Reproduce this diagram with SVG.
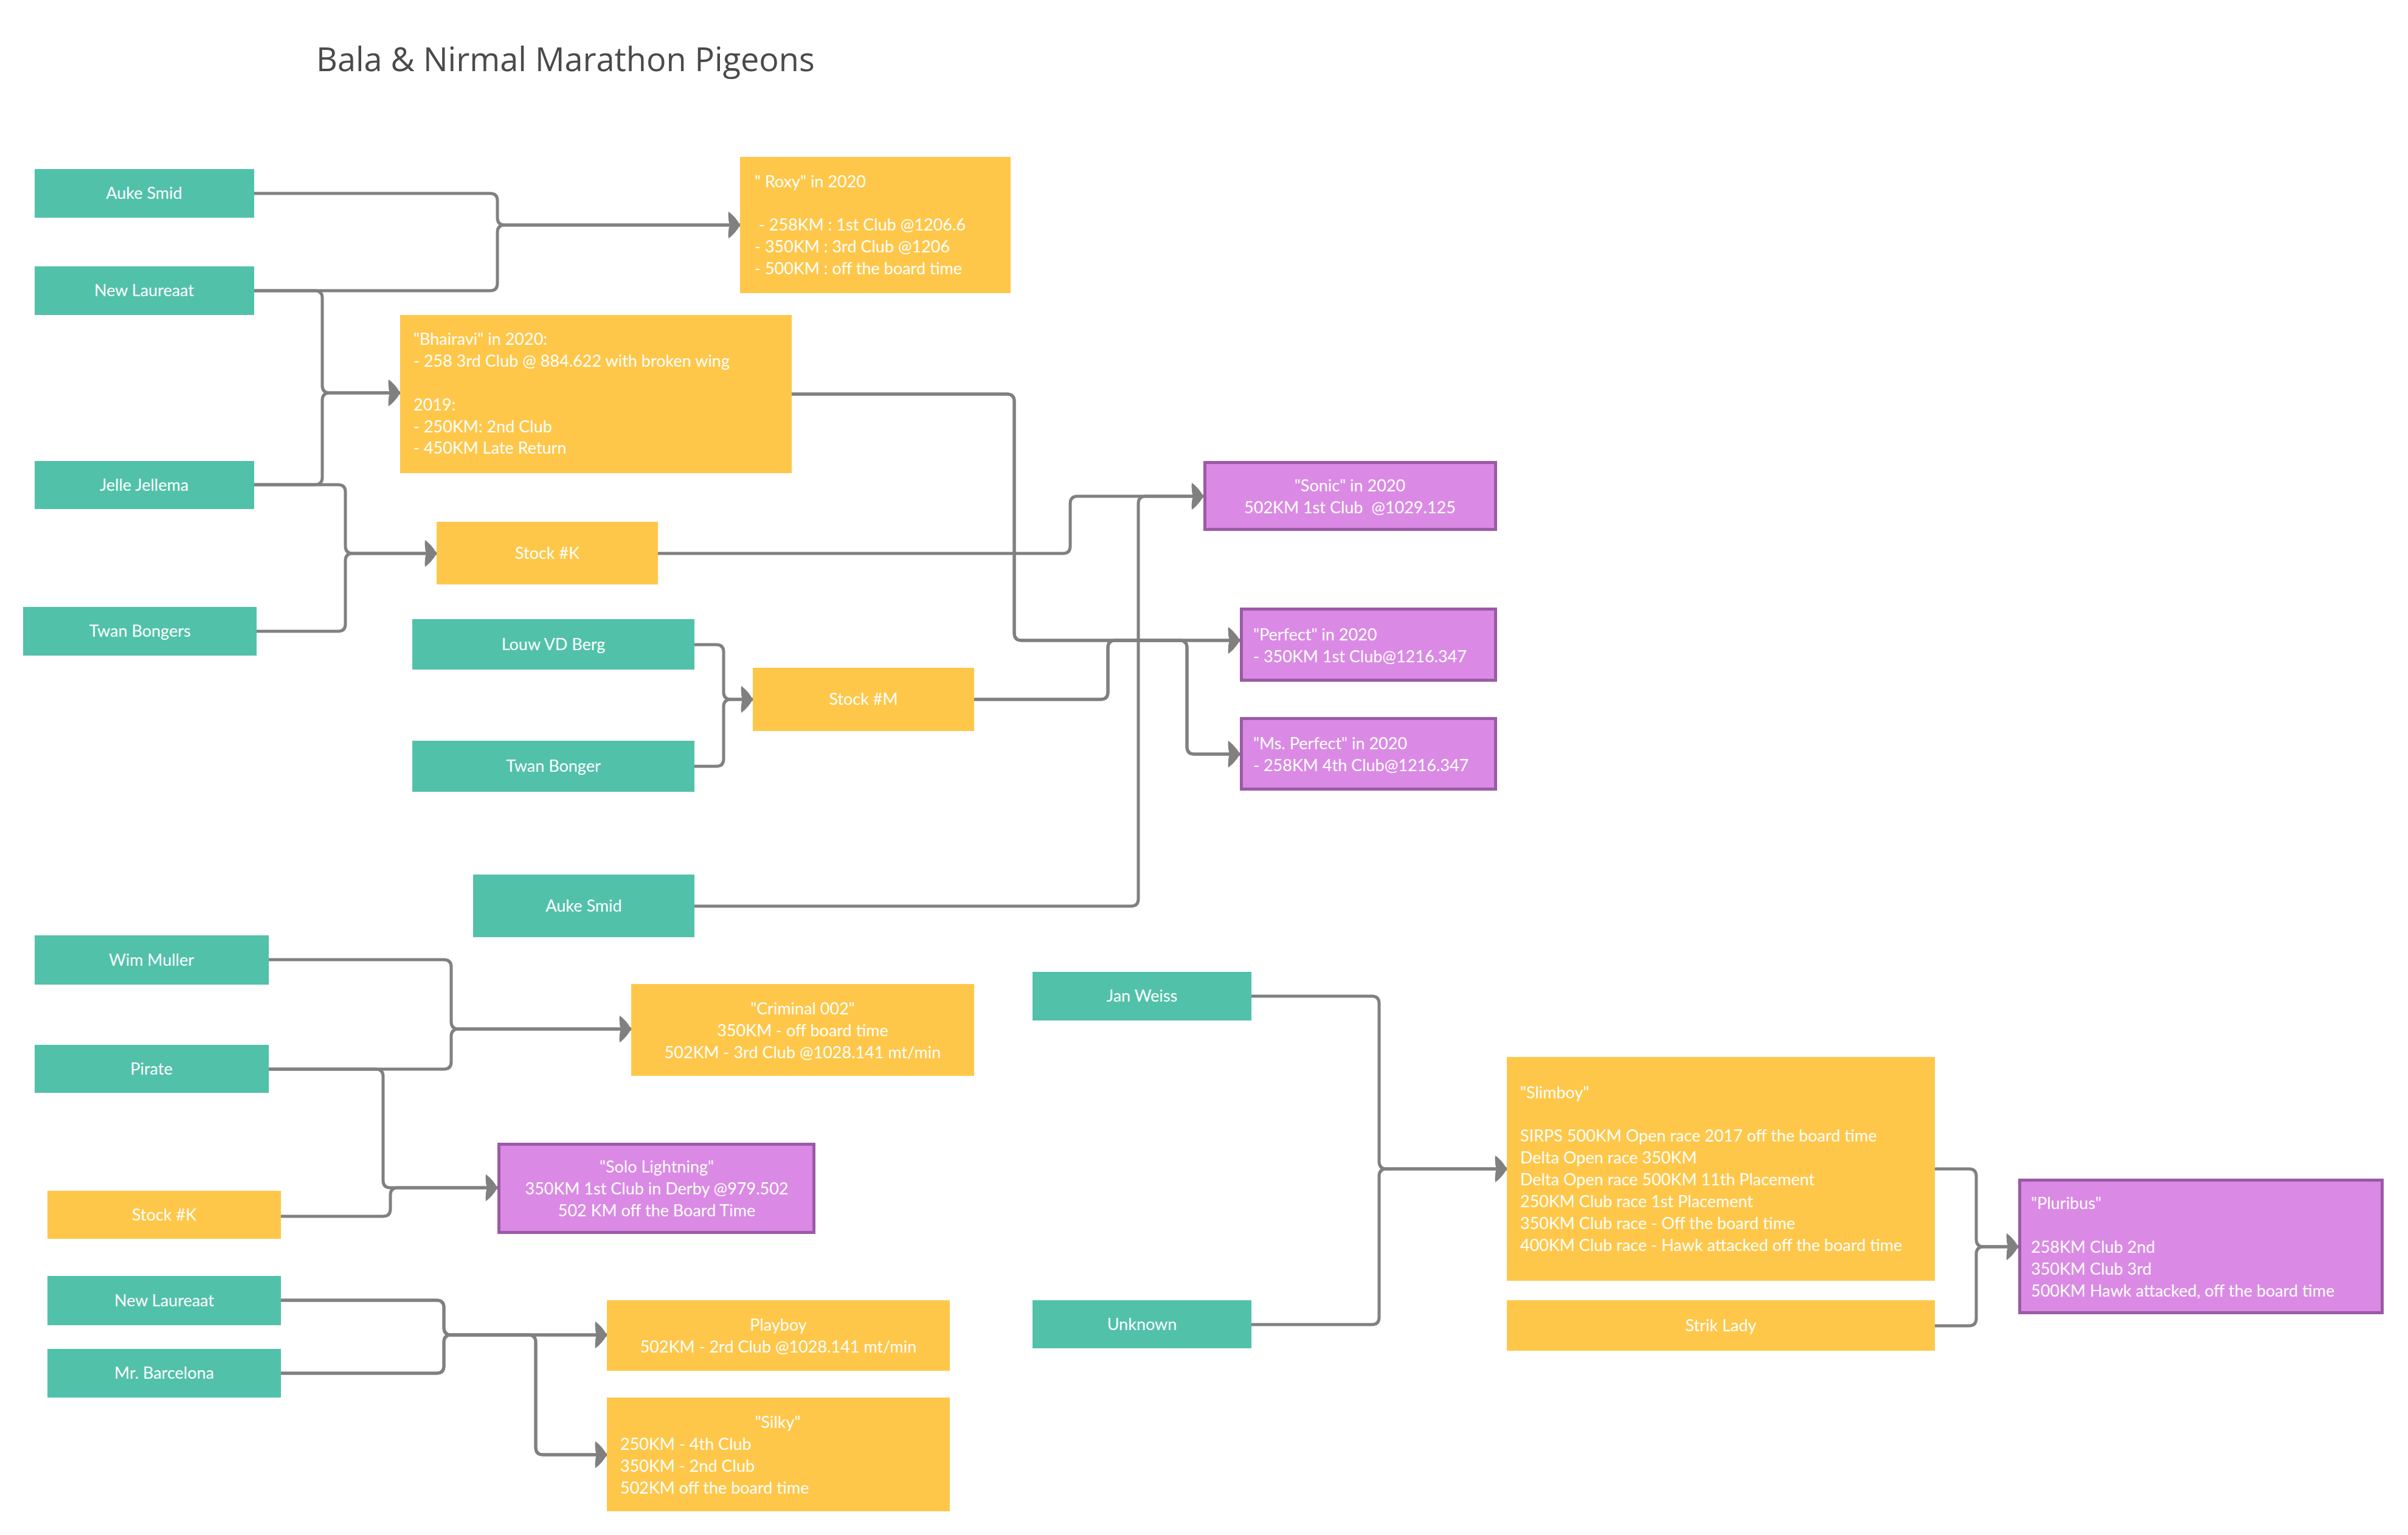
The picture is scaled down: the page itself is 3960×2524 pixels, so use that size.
<svg xmlns="http://www.w3.org/2000/svg" width="3960" height="2524" viewBox="0 0 3960 2524">
<style>
.bg{fill:#ffffff}
.teal{fill:#52c1aa}
.yel{fill:#ffc74a}
.pur{fill:#da8ae4;stroke:#9b5aa6;stroke-width:5}
.t{font-family:Lato,"Open Sans","Liberation Sans",sans-serif;font-size:27px;fill:#ffffff;white-space:pre}
.c{text-anchor:middle}
.title{font-family:"Open Sans","Liberation Sans",sans-serif;font-size:54px;fill:#4a4a4a}
.ln{fill:none;stroke:#808080;stroke-width:5;stroke-linejoin:round;marker-end:url(#ah)}
</style>
<defs>
<marker id="ah" markerUnits="userSpaceOnUse" viewBox="0 0 25 44" refX="24" refY="22" markerWidth="25" markerHeight="44" orient="auto">
<path d="M24 22 Q16 8 5 0 Q4 12 7 22 Q4 32 5 44 Q16 36 24 22 Z" fill="#808080"/>
</marker>
</defs>
<rect class="bg" x="0" y="0" width="3960" height="2524"/>
<text class="title" x="520" y="117">Bala &amp; Nirmal Marathon Pigeons</text>

<g id="connectors">
<path class="ln" d="M417 318 H806 Q818 318 818 330 V358 Q818 370 830 370 H1217"/>
<path class="ln" d="M417 478 H806 Q818 478 818 466 V382 Q818 370 830 370 H1217"/>
<path class="ln" d="M417 478 H518 Q530 478 530 490 V634 Q530 646 542 646 H658"/>
<path class="ln" d="M417 797 H518 Q530 797 530 785 V658 Q530 646 542 646 H658"/>
<path class="ln" d="M417 797 H556 Q568 797 568 809 V898 Q568 910 580 910 H718"/>
<path class="ln" d="M422 1038 H556 Q568 1038 568 1026 V922 Q568 910 580 910 H718"/>
<path class="ln" d="M1302 648 H1656 Q1668 648 1668 660 V1041 Q1668 1053 1680 1053 H2039"/>
<path class="ln" d="M1302 648 H1656 Q1668 648 1668 660 V1041 Q1668 1053 1680 1053 H1940 Q1952 1053 1952 1065 V1228 Q1952 1240 1964 1240 H2039"/>
<path class="ln" d="M1082 910 H1748 Q1760 910 1760 898 V828 Q1760 816 1772 816 H1979"/>
<path class="ln" d="M1142 1490 H1860 Q1872 1490 1872 1478 V828 Q1872 816 1884 816 H1979"/>
<path class="ln" d="M1602 1150 H1810 Q1822 1150 1822 1138 V1065 Q1822 1053 1834 1053 H2039"/>
<path class="ln" d="M1602 1150 H1810 Q1822 1150 1822 1138 V1065 Q1822 1053 1834 1053 H1940 Q1952 1053 1952 1065 V1228 Q1952 1240 1964 1240 H2039"/>
<path class="ln" d="M1142 1060 H1178 Q1190 1060 1190 1072 V1138 Q1190 1150 1202 1150 H1238"/>
<path class="ln" d="M1142 1260 H1178 Q1190 1260 1190 1248 V1162 Q1190 1150 1202 1150 H1238"/>
<path class="ln" d="M442 1578 H730 Q742 1578 742 1590 V1680 Q742 1692 754 1692 H1038"/>
<path class="ln" d="M442 1758 H730 Q742 1758 742 1746 V1704 Q742 1692 754 1692 H1038"/>
<path class="ln" d="M442 1758 H618 Q630 1758 630 1770 V1941 Q630 1953 642 1953 H818"/>
<path class="ln" d="M462 2000 H630 Q642 2000 642 1988 V1965 Q642 1953 654 1953 H818"/>
<path class="ln" d="M462 2138 H718 Q730 2138 730 2150 V2183 Q730 2195 742 2195 H998"/>
<path class="ln" d="M462 2258 H718 Q730 2258 730 2246 V2207 Q730 2195 742 2195 H998"/>
<path class="ln" d="M462 2138 H718 Q730 2138 730 2150 V2183 Q730 2195 742 2195 H869 Q881 2195 881 2207 V2380 Q881 2392 893 2392 H998"/>
<path class="ln" d="M462 2258 H718 Q730 2258 730 2246 V2207 Q730 2195 742 2195 H869 Q881 2195 881 2207 V2380 Q881 2392 893 2392 H998"/>
<path class="ln" d="M2058 1638 H2256 Q2268 1638 2268 1650 V1910 Q2268 1922 2280 1922 H2478"/>
<path class="ln" d="M2058 2178 H2256 Q2268 2178 2268 2166 V1934 Q2268 1922 2280 1922 H2478"/>
<path class="ln" d="M3182 1922 H3238 Q3250 1922 3250 1934 V2038 Q3250 2050 3262 2050 H3319"/>
<path class="ln" d="M3182 2180 H3238 Q3250 2180 3250 2168 V2062 Q3250 2050 3262 2050 H3319"/>
</g>

<g id="auke-smid-1"><rect class="teal" x="57" y="278" width="361" height="80"/><text class="t c" x="237" y="327">Auke Smid</text></g>
<g id="new-laureaat-1"><rect class="teal" x="57" y="438" width="361" height="80"/><text class="t c" x="237" y="487">New Laureaat</text></g>
<g id="jelle-jellema"><rect class="teal" x="57" y="758" width="361" height="79"/><text class="t c" x="237" y="807">Jelle Jellema</text></g>
<g id="twan-bongers"><rect class="teal" x="38" y="998" width="384" height="80"/><text class="t c" x="230" y="1047">Twan Bongers</text></g>
<g id="louw-vd-berg"><rect class="teal" x="678" y="1018" width="464" height="83"/><text class="t c" x="910" y="1069">Louw VD Berg</text></g>
<g id="twan-bonger"><rect class="teal" x="678" y="1218" width="464" height="84"/><text class="t c" x="910" y="1269">Twan Bonger</text></g>
<g id="auke-smid-2"><rect class="teal" x="778" y="1438" width="364" height="103"/><text class="t c" x="960" y="1499">Auke Smid</text></g>
<g id="wim-muller"><rect class="teal" x="57" y="1538" width="385" height="81"/><text class="t c" x="249" y="1588">Wim Muller</text></g>
<g id="pirate"><rect class="teal" x="57" y="1718" width="385" height="79"/><text class="t c" x="249" y="1767">Pirate</text></g>
<g id="new-laureaat-2"><rect class="teal" x="78" y="2098" width="384" height="81"/><text class="t c" x="270" y="2148">New Laureaat</text></g>
<g id="mr-barcelona"><rect class="teal" x="78" y="2218" width="384" height="80"/><text class="t c" x="270" y="2267">Mr. Barcelona</text></g>
<g id="jan-weiss"><rect class="teal" x="1698" y="1598" width="360" height="80"/><text class="t c" x="1878" y="1647">Jan Weiss</text></g>
<g id="unknown"><rect class="teal" x="1698" y="2138" width="360" height="79"/><text class="t c" x="1878" y="2187">Unknown</text></g>

<g id="roxy"><rect class="yel" x="1217" y="258" width="445" height="224"/>
<text class="t" x="1241" y="308">" Roxy" in 2020</text>
<text class="t" x="1241" y="379"> - 258KM : 1st Club @1206.6</text>
<text class="t" x="1241" y="415">- 350KM : 3rd Club @1206</text>
<text class="t" x="1241" y="451">- 500KM : off the board time</text></g>

<g id="bhairavi"><rect class="yel" x="658" y="518" width="644" height="260"/>
<text class="t" x="680" y="567">"Bhairavi" in 2020:</text>
<text class="t" x="680" y="603">- 258 3rd Club @ 884.622 with broken wing</text>
<text class="t" x="680" y="675">2019:</text>
<text class="t" x="680" y="711">- 250KM: 2nd Club</text>
<text class="t" x="680" y="746">- 450KM Late Return</text></g>

<g id="stock-k-1"><rect class="yel" x="718" y="858" width="364" height="103"/><text class="t c" x="900" y="919">Stock #K</text></g>
<g id="stock-m"><rect class="yel" x="1238" y="1098" width="364" height="104"/><text class="t c" x="1420" y="1159">Stock #M</text></g>
<g id="stock-k-2"><rect class="yel" x="78" y="1958" width="384" height="79"/><text class="t c" x="270" y="2007">Stock #K</text></g>

<g id="criminal-002"><rect class="yel" x="1038" y="1618" width="564" height="151"/>
<text class="t c" x="1320" y="1668">"Criminal 002"</text>
<text class="t c" x="1320" y="1704">350KM - off board time</text>
<text class="t c" x="1320" y="1740">502KM - 3rd Club @1028.141 mt/min</text></g>

<g id="playboy"><rect class="yel" x="998" y="2138" width="564" height="116"/>
<text class="t c" x="1280" y="2188">Playboy</text>
<text class="t c" x="1280" y="2224">502KM - 2rd Club @1028.141 mt/min</text></g>

<g id="silky"><rect class="yel" x="998" y="2298" width="564" height="187"/>
<text class="t c" x="1279" y="2348">"Silky"</text>
<text class="t" x="1020" y="2384">250KM - 4th Club</text>
<text class="t" x="1020" y="2420">350KM - 2nd Club</text>
<text class="t" x="1020" y="2456">502KM off the board time</text></g>

<g id="slimboy"><rect class="yel" x="2478" y="1738" width="704" height="368"/>
<text class="t" x="2500" y="1806">"Slimboy"</text>
<text class="t" x="2500" y="1877">SIRPS 500KM Open race 2017 off the board time</text>
<text class="t" x="2500" y="1913">Delta Open race 350KM</text>
<text class="t" x="2500" y="1949">Delta Open race 500KM 11th Placement</text>
<text class="t" x="2500" y="1985">250KM Club race 1st Placement</text>
<text class="t" x="2500" y="2021">350KM Club race - Off the board time</text>
<text class="t" x="2500" y="2057">400KM Club race - Hawk attacked off the board time</text></g>

<g id="strik-lady"><rect class="yel" x="2478" y="2138" width="704" height="83"/><text class="t c" x="2830" y="2189">Strik Lady</text></g>

<g id="sonic"><rect class="pur" x="1981.5" y="760.5" width="478" height="110"/>
<text class="t c" x="2220" y="808">"Sonic" in 2020</text>
<text class="t c" x="2220" y="844">502KM 1st Club  @1029.125</text></g>

<g id="perfect"><rect class="pur" x="2041.5" y="1001.5" width="418" height="117"/>
<text class="t" x="2061" y="1053">"Perfect" in 2020</text>
<text class="t" x="2061" y="1089">- 350KM 1st Club@1216.347</text></g>

<g id="ms-perfect"><rect class="pur" x="2041.5" y="1181.5" width="418" height="116"/>
<text class="t" x="2061" y="1232">"Ms. Perfect" in 2020</text>
<text class="t" x="2061" y="1268">- 258KM 4th Club@1216.347</text></g>

<g id="solo-lightning"><rect class="pur" x="820.5" y="1881.5" width="518" height="145"/>
<text class="t c" x="1080" y="1928">"Solo Lightning"</text>
<text class="t c" x="1080" y="1964">350KM 1st Club in Derby @979.502</text>
<text class="t c" x="1080" y="2000">502 KM off the Board Time</text></g>

<g id="pluribus"><rect class="pur" x="3321.5" y="1940.5" width="596" height="218"/>
<text class="t" x="3340" y="1988">"Pluribus"</text>
<text class="t" x="3340" y="2060">258KM Club 2nd</text>
<text class="t" x="3340" y="2096">350KM Club 3rd</text>
<text class="t" x="3340" y="2132">500KM Hawk attacked, off the board time</text></g>
</svg>
